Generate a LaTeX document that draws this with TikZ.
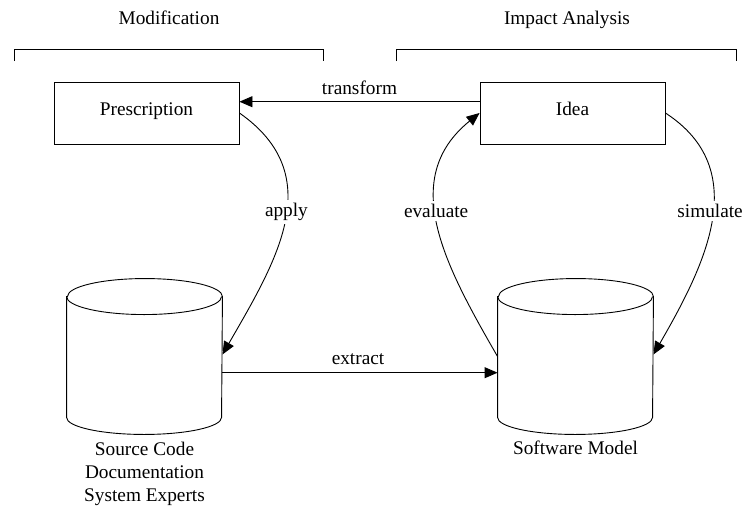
\documentclass[tikz,border=0pt]{standalone}
\usepackage{fontspec}
\setmainfont{Liberation Serif}
\usetikzlibrary{arrows.meta}
\newcommand{\drawcyl}[1]{%
  \draw[fill=white] ([yshift=-18pt]#1.north west) -- ([yshift=17pt]#1.south west)
    arc[start angle=180,end angle=360,x radius=77.5pt,y radius=17pt]
    -- ([yshift=-18pt]#1.north east)
    arc[start angle=0,end angle=180,x radius=77.5pt,y radius=18pt] -- cycle;
  \draw ([yshift=-18pt]#1.north west) arc[start angle=180,end angle=360,x radius=77.5pt,y radius=18pt];}
\begin{document}
\begin{tikzpicture}[x=1pt,y=1pt, font=\fontsize{19.3}{23.2}\selectfont, line width=0.9pt,
  box/.style={draw, minimum width=185pt, minimum height=62pt, inner sep=0pt, text height=0.7em, text depth=0.25em},
  cylarea/.style={minimum width=155pt, minimum height=155pt, inner sep=0pt},
  arr/.style={-{Triangle[length=13pt,width=11pt]}},
  lbl/.style={fill=white, inner sep=3pt}]
\useasboundingbox (0,0) rectangle (744,-506);
% headings and brackets
\node[anchor=base] (modT) at (169,-24) {Modification};
\node[anchor=base] (impT) at (567,-24) {Impact Analysis};
\draw (14,-61) -- (14,-49) -- (323,-49) -- (323,-61);
\draw (396,-61) -- (396,-49) -- (736,-49) -- (736,-61);
% boxes
\node[box] (P) at (146.5,-113) {Prescription};
\node[box] (I) at (572.5,-113) {Idea};
% cylinders
\node[cylarea] (L) at (144.5,-356.5) {};
\node[cylarea] (R) at (575.5,-356.5) {};
\drawcyl{L}
\drawcyl{R}
\node[anchor=north, align=center, inner sep=0pt] (Ltxt) at (144.5,-441.3) {Source Code\\Documentation\\System Experts};
\node[anchor=base] (Rtxt) at (575.5,-454) {Software Model};
% connectors
\draw[arr] ([yshift=11.3pt]I.west) -- node[midway, above, inner sep=0pt, yshift=6.7pt] {transform} ([yshift=11.3pt]P.east);
\draw[arr] ([yshift=-16.2pt]L.east) -- node[midway, above, inner sep=0pt, yshift=7.7pt, xshift=-2pt] {extract} ([yshift=-16.2pt]R.west);
\draw[arr] (P.east) to[out=-35,in=60,looseness=1.15] node[lbl,pos=0.46] {apply} ([yshift=2pt]L.east);
\draw[arr] (R.west) to[out=120,in=-141,looseness=1.1] node[lbl,pos=0.56] {evaluate} (I.west);
\draw[arr] (I.east) to[out=-33,in=60,looseness=1.1] node[lbl,pos=0.46,inner xsep=1pt,xshift=-3pt] {simulate} ([yshift=2pt]R.east);
\end{tikzpicture}
\end{document}
